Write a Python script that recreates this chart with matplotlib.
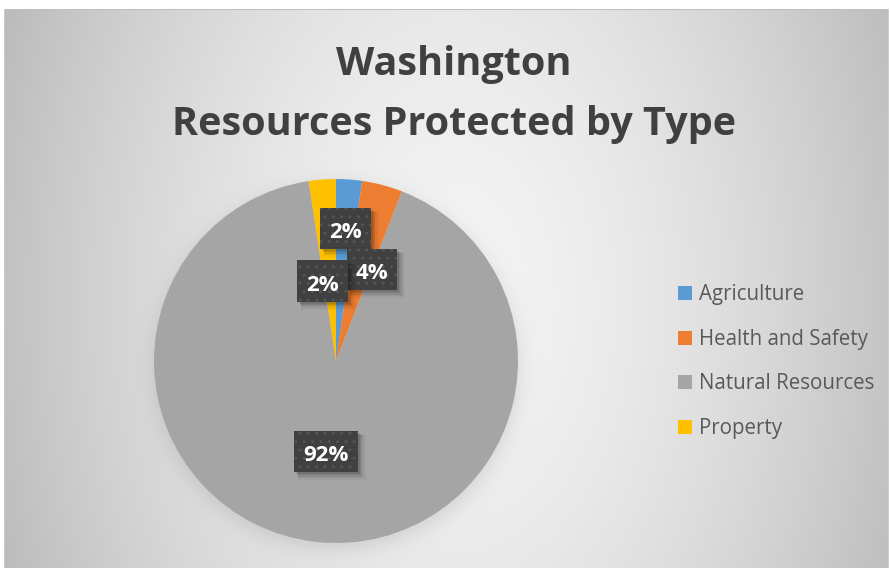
import numpy as np
import matplotlib
matplotlib.use("Agg")
import matplotlib.pyplot as plt
from matplotlib.patches import Rectangle

# ---- data ----
categories = ["Agriculture", "Health and Safety", "Natural Resources", "Property"]
shares = [2.3, 3.6, 91.7, 2.4]
colors = ["#5B9BD5", "#ED7D31", "#A5A5A5", "#FFC000"]
title_lines = ["Washington", "Resources Protected by Type"]

# ---- layout ----
W, H, DPI = 890, 568, 100
CX, CY, R = 336, 361, 182          # pie centre / radius in pixels (y from top)
LABEL_R = [0.73, 0.52, 0.50, 0.44]
LABEL_DX = [0.0, 0.066, 0.0, -0.041]
FONT = "Open Sans"

fig = plt.figure(figsize=(W / DPI, H / DPI), dpi=DPI)
fig.patch.set_facecolor("white")

# background with radial gradient and soft pie shadow
bg = fig.add_axes([0, 0, 1, 1])
bg.set_xlim(0, W)
bg.set_ylim(H, 0)
bg.axis("off")
yy, xx = np.mgrid[0:H, 0:W] + 0.5
r = np.sqrt(((xx - 454) / 447) ** 2 + ((yy - 300) / 700) ** 2)
v = 244 - 50 * np.clip(r, 0, 1.3) ** 1.6
d = np.sqrt((xx - CX) ** 2 + (yy - (CY + 6)) ** 2)
sh = 0.22 / (1 + np.exp((d - R) / 6.0))
v = v - sh * (v - 110)
v[:9, :] = 255
v[:, :4] = 255
v[:, 889:] = 255
v[9, 4:889] = 190
v[9:, 4] = 200
v[9:, 888] = 205
img = np.dstack([v, v, v]) / 255.0
bg.imshow(np.clip(img, 0, 1), extent=[0, W, H, 0], interpolation="nearest", aspect="auto")

# pie
ax = fig.add_axes([(CX - R) / W, (H - CY - R) / H, 2 * R / W, 2 * R / H])
wedges, _ = ax.pie(shares, colors=colors, startangle=90, counterclock=False,
                   radius=1, wedgeprops=dict(linewidth=0))
ax.set_xlim(-1, 1)
ax.set_ylim(-1, 1)
ax.axis("off")

renderer = fig.canvas.get_renderer()
total = sum(shares)
px = 1.0 / R                       # one pixel in data units
BOX_H = 41.5 * px
PAD_X = 9 * px
for i, w in enumerate(wedges):
    mid = np.deg2rad((w.theta1 + w.theta2) / 2)
    x = LABEL_R[i] * np.cos(mid) + LABEL_DX[i]
    y = LABEL_R[i] * np.sin(mid)
    pct = shares[i] / total * 100
    z = 5 + 2 * i
    t = ax.text(x, y - 9.5 * px, f"{pct:.0f}%", ha="center", va="baseline",
                color="white", fontsize=16, fontweight="bold", family=FONT, zorder=z + 1)
    tw = t.get_window_extent(renderer).width * px
    bw = tw + 2 * PAD_X
    # soft shadow
    for o, a, g in [(6, 0.035, 2), (5, 0.05, 1), (4, 0.07, 0.5), (3, 0.09, 0), (2, 0.09, 0)]:
        ax.add_patch(Rectangle((x - bw / 2 + (o - g) * px, y - BOX_H / 2 - (o + g) * px),
                               bw + 2 * g * px, BOX_H + 2 * g * px,
                               facecolor="black", alpha=a, linewidth=0, zorder=z - 0.5))
    ax.add_patch(Rectangle((x - bw / 2, y - BOX_H / 2), bw, BOX_H,
                           facecolor="#404040", edgecolor="#545454", linewidth=0,
                           hatch="..", zorder=z))

# legend
fig.legend(wedges, categories, loc="center left",
           bbox_to_anchor=(678 / W, 1 - 361.6 / H), frameon=False,
           prop=dict(family=FONT, size=14.8), labelcolor="#595959",
           handlelength=0.68, handleheight=0.68, handletextpad=0.33,
           labelspacing=1.15, borderpad=0, borderaxespad=0)

# title
fig.text(454 / W, 1 - 75 / H, title_lines[0], ha="center", va="baseline",
         fontsize=28.5, fontweight="bold", family=FONT, color="#404040")
fig.text(454 / W, 1 - 135 / H, title_lines[1], ha="center", va="baseline",
         fontsize=28.5, fontweight="bold", family=FONT, color="#404040")

fig.savefig("out.png", dpi=DPI)
